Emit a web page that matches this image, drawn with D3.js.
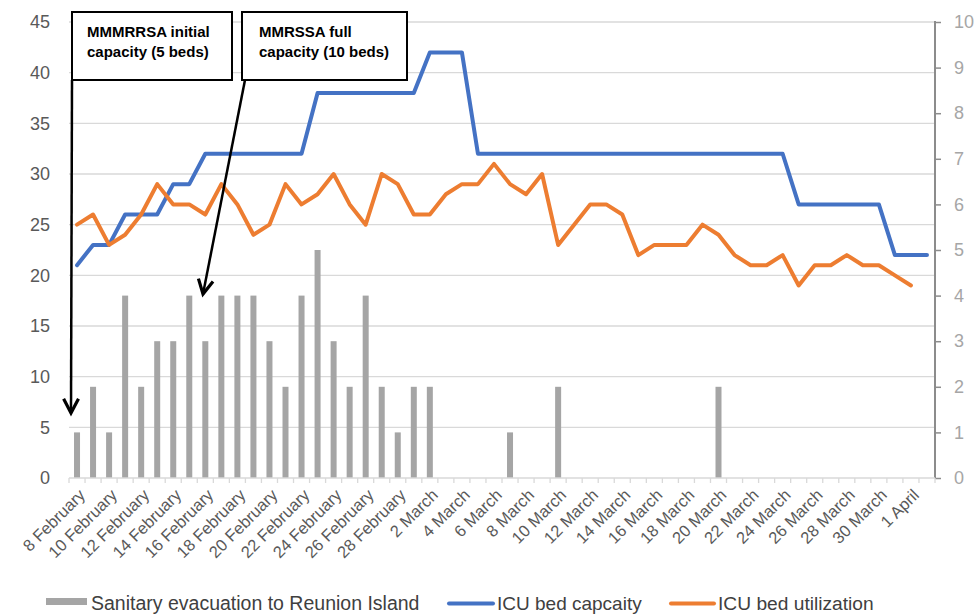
<!DOCTYPE html>
<html><head><meta charset="utf-8">
<script src="https://cdn.jsdelivr.net/npm/d3@7"></script>
<style>
html,body{margin:0;padding:0;background:#fff;}
svg{display:block;font-family:"Liberation Sans",Arial,sans-serif;}
</style></head>
<body><svg id="c" width="979" height="615"></svg>
<script>
const categories = ["8 February","9 February","10 February","11 February","12 February","13 February","14 February","15 February","16 February","17 February","18 February","19 February","20 February","21 February","22 February","23 February","24 February","25 February","26 February","27 February","28 February","1 March","2 March","3 March","4 March","5 March","6 March","7 March","8 March","9 March","10 March","11 March","12 March","13 March","14 March","15 March","16 March","17 March","18 March","19 March","20 March","21 March","22 March","23 March","24 March","25 March","26 March","27 March","28 March","29 March","30 March","31 March","1 April","2 April"];
const evacuations = [1,2,1,4,2,3,3,4,3,4,4,4,3,2,4,5,3,2,4,2,1,2,2,0,0,0,0,1,0,0,2,0,0,0,0,0,0,0,0,0,2,0,0,0,0,0,0,0,0,0,0,0,0,0];
const icuCapacity = [21,23,23,26,26,26,29,29,32,32,32,32,32,32,32,38,38,38,38,38,38,38,42,42,42,32,32,32,32,32,32,32,32,32,32,32,32,32,32,32,32,32,32,32,32,27,27,27,27,27,27,22,22,22];
const icuUtilization = [25,26,23,24,26,29,27,27,26,29,27,24,25,29,27,28,30,27,25,30,29,26,26,28,29,29,31,29,28,30,23,25,27,27,26,22,23,23,23,25,24,22,21,21,22,19,21,21,22,21,21,20,19,null];
const leftTicks = [0,5,10,15,20,25,30,35,40,45];
const rightTicks = [0,1,2,3,4,5,6,7,8,9,10];
const seriesNames = ["Sanitary evacuation to Reunion Island","ICU bed capcaity","ICU bed utilization"];
const annotations = [
  {lines:["MMMRRSA initial","capacity (5 beds)"]},
  {lines:["MMRSSA full","capacity (10 beds)"]}
];

const svg = d3.select("#c");
const L = 69, R = 935, T = 22, B = 478;
const x = d3.scaleBand().domain(categories).range([L, R]);
const yL = d3.scaleLinear().domain([0,45]).range([B, T]);
const yR = d3.scaleLinear().domain([0,10]).range([B, T]);

// gridlines
svg.append("g").selectAll("line").data(leftTicks.filter(d=>d>0)).join("line")
  .attr("x1", L).attr("x2", R).attr("y1", d=>yL(d)).attr("y2", d=>yL(d))
  .attr("stroke", "#d9d9d9").attr("stroke-width", 1.3);

// left axis labels
const gl = svg.append("g").attr("transform", `translate(${L},0)`)
  .call(d3.axisLeft(yL).tickValues(leftTicks).tickSize(0).tickPadding(19));
gl.select(".domain").remove();
gl.selectAll("text").attr("font-size", 18).attr("fill", "#595959").attr("font-family","Liberation Sans, Arial, sans-serif");

// right axis
const gr = svg.append("g").attr("transform", `translate(${R},0)`)
  .call(d3.axisRight(yR).tickValues(rightTicks).tickSize(6).tickPadding(13));
gr.select(".domain").attr("stroke", "#8c8c8c").attr("stroke-width", 2).attr("d", `M0,${T-1}V${B}`);
gr.selectAll("line").attr("stroke", "#8c8c8c").attr("stroke-width", 1.5);
gr.selectAll("text").attr("font-size", 18).attr("fill", "#a6a6a6").attr("font-family","Liberation Sans, Arial, sans-serif");

// bars
const bw = 6;
svg.append("g").selectAll("rect").data(categories.map((c,i)=>({c, v:evacuations[i]})).filter(d=>d.v>0)).join("rect")
  .attr("x", d=>x(d.c)+x.bandwidth()/2-bw/2).attr("width", bw)
  .attr("y", d=>yR(d.v)).attr("height", d=>B-yR(d.v))
  .attr("fill", "#a5a5a5");

// x axis
const xAxisG = svg.append("g").attr("transform", `translate(0,${B})`);
xAxisG.append("line").attr("x1", L).attr("x2", R).attr("y1", 0).attr("y2", 0).attr("stroke", "#d9d9d9").attr("stroke-width", 1.5);
const bounds = categories.map(c=>x(c)).concat([R]);
xAxisG.selectAll("line.tk").data(bounds).join("line").attr("class","tk")
  .attr("x1", d=>d).attr("x2", d=>d).attr("y1", 0).attr("y2", 5)
  .attr("stroke", "#d9d9d9").attr("stroke-width", 1.3);
xAxisG.selectAll("text").data(categories.filter((c,i)=>i%2===0)).join("text")
  .attr("transform", d=>`translate(${x(d)+x.bandwidth()/2+5},14) rotate(-45)`)
  .attr("text-anchor", "end").attr("dy", "0.35em")
  .attr("font-size", 16.5).attr("fill", "#595959").text(d=>d);

// lines
const cx = c => x(c) + x.bandwidth()/2;
const line = d3.line().defined(d=>d.v!=null).x(d=>cx(d.c)).y(d=>yL(d.v));
svg.append("path").datum(categories.map((c,i)=>({c, v:icuCapacity[i]})))
  .attr("d", line).attr("fill","none").attr("stroke","#4472c4").attr("stroke-width",4).attr("stroke-linejoin","round").attr("stroke-linecap","round");
svg.append("path").datum(categories.map((c,i)=>({c, v:icuUtilization[i]})))
  .attr("d", line).attr("fill","none").attr("stroke","#ed7d31").attr("stroke-width",4).attr("stroke-linejoin","round").attr("stroke-linecap","round");

// annotations
const boxes = [{x:72,y:12,w:160,h:68,tx:87},{x:242,y:12,w:165,h:68,tx:259}];
const arrows = [{x1:72,y1:80,x2:71,y2:413},{x1:245,y1:80,x2:203,y2:294}];
arrows.forEach(a=>{
  const g = svg.append("g");
  g.append("line").attr("x1",a.x1).attr("y1",a.y1).attr("x2",a.x2).attr("y2",a.y2).attr("stroke","#000").attr("stroke-width",2.5);
  const ang = Math.atan2(a.y2-a.y1, a.x2-a.x1);
  const len = 16, spread = Math.PI/6.5;
  const p1 = [a.x2 - len*Math.cos(ang-spread), a.y2 - len*Math.sin(ang-spread)];
  const p2 = [a.x2 - len*Math.cos(ang+spread), a.y2 - len*Math.sin(ang+spread)];
  g.append("path").attr("d", `M${p1}L${a.x2},${a.y2}L${p2}`).attr("fill","none").attr("stroke","#000").attr("stroke-width",3.2).attr("stroke-linejoin","miter");
});
annotations.forEach((a,i)=>{
  const b = boxes[i];
  const g = svg.append("g");
  g.append("rect").attr("x",b.x).attr("y",b.y).attr("width",b.w).attr("height",b.h).attr("fill","#fff").attr("stroke","#000").attr("stroke-width",2);
  a.lines.forEach((t,j)=>{
    g.append("text").attr("x",b.tx).attr("y",b.y+25+j*20).attr("font-size",15).attr("font-weight","bold").attr("fill","#000").text(t);
  });
});

// legend
const lg = svg.append("g");
lg.append("rect").attr("x",46).attr("y",598).attr("width",41).attr("height",7).attr("fill","#a5a5a5");
lg.append("text").attr("x",91).attr("y",610).attr("font-size",19.5).attr("fill","#404040").text(seriesNames[0]);
lg.append("line").attr("x1",449).attr("x2",493).attr("y1",603.5).attr("y2",603.5).attr("stroke","#4472c4").attr("stroke-width",4).attr("stroke-linecap","round");
lg.append("text").attr("x",497).attr("y",610).attr("font-size",19).attr("fill","#404040").text(seriesNames[1]);
lg.append("line").attr("x1",671).attr("x2",714).attr("y1",603.5).attr("y2",603.5).attr("stroke","#ed7d31").attr("stroke-width",4).attr("stroke-linecap","round");
lg.append("text").attr("x",718).attr("y",610).attr("font-size",19.2).attr("fill","#404040").text(seriesNames[2]);
</script></body></html>
